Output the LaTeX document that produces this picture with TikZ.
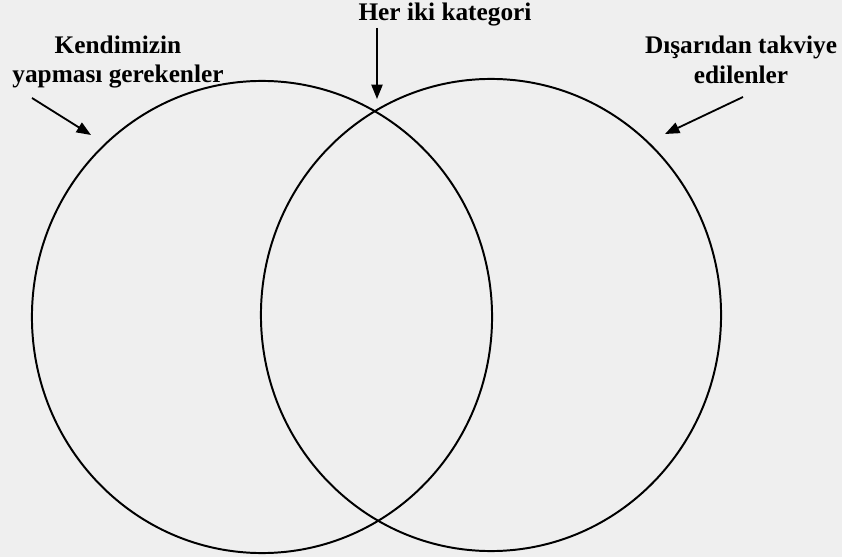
\documentclass[tikz,border=0pt]{standalone}
\usepackage{fontspec}
\setmainfont{Liberation Serif}
\usetikzlibrary{shapes.geometric, arrows.meta}
\definecolor{paper}{RGB}{239,239,239}

\begin{document}
\begin{tikzpicture}[x=0.025cm, y=-0.025cm,
    lbl/.style={font=\fontsize{18}{21}\selectfont\bfseries, align=center, inner sep=0pt},
    set/.style={ellipse, draw, line width=1.4pt, minimum width=11.5cm, minimum height=11.8cm, inner sep=0pt},
    arr/.style={line width=1.3pt, -{Triangle[length=3.6mm, width=2.8mm]}}]
    \fill[paper] (0,0) rectangle (842,557);
    \useasboundingbox (0,0) rectangle (842,557);
    % the two sets
    \node[set] (own) at (262,317) {};
    \node[set] (ext) at (491,315) {};
    % labels
    \node[lbl] (own lbl) at (118,62) {Kendimizin\\yapması gerekenler};
    \node[lbl] (both lbl) at (445,15) {Her iki kategori};
    \node[lbl] (ext lbl) at (741,60) {Dışarıdan takviye\\edilenler};
    % arrow ends
    \coordinate (own s) at (32,98);
    \coordinate (own t) at (91,135);
    \coordinate (both s) at (377,28);
    \coordinate (both t) at (377,99);
    \coordinate (ext s) at (743,97);
    \coordinate (ext t) at (665,134);
    \foreach \n in {own, both, ext} {
        \draw[arr] (\n\space s) -- (\n\space t);
    }
\end{tikzpicture}
\end{document}
